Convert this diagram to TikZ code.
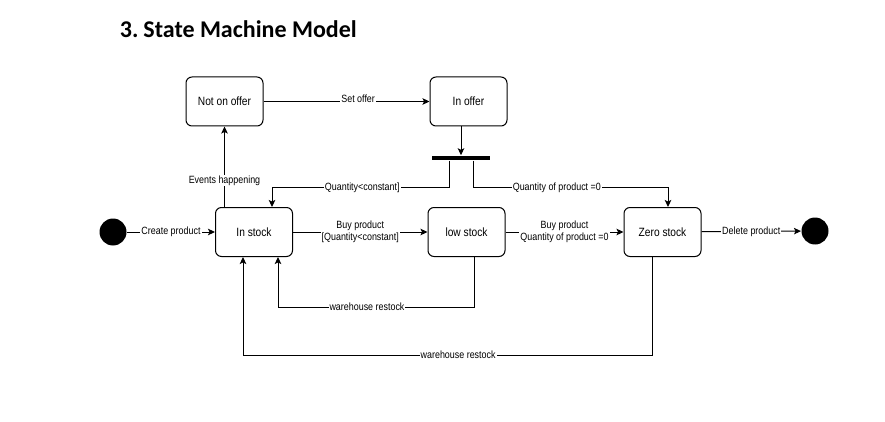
\documentclass[tikz,border=0pt]{standalone}
\usepackage{fontspec}
\setmainfont{Liberation Sans}[FakeStretch=0.85]
\newfontfamily\titlefont{Carlito}
\usetikzlibrary{arrows.meta}
\begin{document}
\begin{tikzpicture}[x=1pt, y=-1pt, line width=1pt,
state/.style={draw, rounded corners=6pt, minimum width=77pt, minimum height=49pt, font=\fontsize{12}{14}\selectfont},
lbl/.style={fill=white, inner sep=1pt, font=\fontsize{10.5}{12}\selectfont},
tr/.style={-{Stealth[length=7pt, width=6.5pt, inset=1.5pt]}}]
\useasboundingbox (0,0) rectangle (885,422);
\node[anchor=base west, font=\fontsize{24}{28}\selectfont\titlefont\bfseries] (title) at (116,38) {3.\hspace{5pt}State Machine Model};
\node[state] (sid0) at (224.5,101.5){Not on offer};
\node[state] (sid1) at (468.5,101.5){In offer};
\node[state] (sid2) at (254,232){In stock};
\node[state] (sid3) at (466.5,232){low stock};
\node[state] (sid4) at (662.5,232){Zero stock};
\node[circle, fill, minimum size=27pt, inner sep=0pt] (sid5) at (113,232){};
\node[circle, fill, minimum size=27pt, inner sep=0pt] (sid6) at (815,231){};
\node[fill, minimum width=58pt, minimum height=4.5pt, inner sep=0pt] (bar) at (461,158){};
\draw[tr](sid5) -- node[lbl]{Create product} (sid2);
\draw[tr](sid0 |- sid2.north) -- node[lbl, pos=0.33]{Events happening} (sid0.south);
\draw[tr](sid0) -- node[lbl, pos=0.57, yshift=3pt]{Set offer} (sid1);
\draw[tr](sid1.south -| bar) -- (bar.north);
\draw[tr]([xshift=-12pt]bar.south) -- ++(0,27) -| node[lbl, pos=0.245]{Quantity<constant]} ([xshift=18pt]sid2.north);
\draw[tr]([xshift=12pt]bar.south) -- ++(0,27) -| node[lbl, pos=0.215]{Quantity of product =0} ([xshift=5.5pt]sid4.north);
\draw[tr](sid2) -- node[lbl, align=center]{Buy product\\{[Quantity<constant]}} (sid3);
\draw[tr](sid3) -- node[lbl, align=center]{Buy product\\Quantity of product =0} (sid4);
\draw[tr](sid4) -- node[lbl]{Delete product} (sid6);
\draw[tr]([xshift=7.5pt]sid3.south) -- ++(0,50) -| node[lbl, pos=0.273]{warehouse restock} ([xshift=24pt]sid2.south);
\draw[tr]([xshift=-10.5pt]sid4.south) -- ++(0,98) -| node[lbl, pos=0.237]{warehouse restock} ([xshift=-11pt]sid2.south);
\end{tikzpicture}
\end{document}
